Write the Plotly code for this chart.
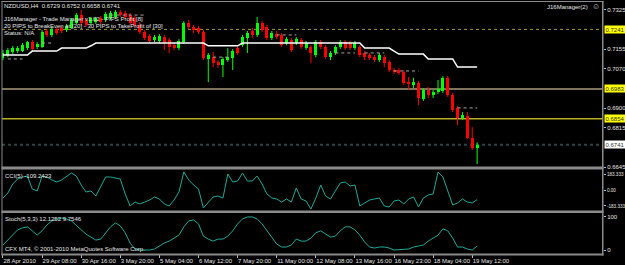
import plotly.graph_objects as go

W, H = 625, 265

# ---------------- data ----------------
bar_index = list(range(98))
opens = [0.7117, 0.7130, 0.7143, 0.7147, 0.7147, 0.7160, 0.7186, 0.7165, 0.7165, 0.7234,
         0.7217, 0.7243, 0.7247, 0.7238, 0.7247, 0.7269, 0.7303, 0.7282, 0.7269, 0.7273,
         0.7290, 0.7282, 0.7290, 0.7295, 0.7316, 0.7312, 0.7303, 0.7290, 0.7260, 0.7230,
         0.7212, 0.7195, 0.7191, 0.7208, 0.7195, 0.7173, 0.7160, 0.7186, 0.7269, 0.7251,
         0.7247, 0.7230, 0.7113, 0.7121, 0.7100, 0.7087, 0.7108, 0.7117, 0.7160, 0.7173,
         0.7204, 0.7234, 0.7217, 0.7269, 0.7251, 0.7204, 0.7221, 0.7217, 0.7182, 0.7195,
         0.7182, 0.7195, 0.7160, 0.7165, 0.7130, 0.7186, 0.7165, 0.7121, 0.7139, 0.7165,
         0.7186, 0.7182, 0.7160, 0.7165, 0.7139, 0.7130, 0.7121, 0.7108, 0.7121, 0.7100,
         0.7065, 0.7065, 0.7056, 0.7013, 0.7000, 0.7009, 0.6940, 0.6979, 0.6957, 0.6970,
         0.6974, 0.7031, 0.6957, 0.6901, 0.6857, 0.6866, 0.6771, 0.6729]
highs = [0.7152, 0.7160, 0.7169, 0.7169, 0.7182, 0.7191, 0.7195, 0.7186, 0.7238, 0.7243,
         0.7251, 0.7251, 0.7256, 0.7264, 0.7290, 0.7312, 0.7325, 0.7290, 0.7295, 0.7295,
         0.7299, 0.7316, 0.7321, 0.7325, 0.7325, 0.7321, 0.7312, 0.7299, 0.7273, 0.7238,
         0.7221, 0.7217, 0.7221, 0.7217, 0.7204, 0.7182, 0.7199, 0.7277, 0.7282, 0.7260,
         0.7256, 0.7238, 0.7139, 0.7143, 0.7108, 0.7121, 0.7160, 0.7156, 0.7169, 0.7217,
         0.7234, 0.7247, 0.7295, 0.7277, 0.7260, 0.7234, 0.7234, 0.7225, 0.7208, 0.7204,
         0.7208, 0.7204, 0.7191, 0.7173, 0.7195, 0.7195, 0.7173, 0.7147, 0.7173, 0.7195,
         0.7195, 0.7191, 0.7191, 0.7173, 0.7147, 0.7139, 0.7130, 0.7139, 0.7130, 0.7108,
         0.7074, 0.7074, 0.7065, 0.7035, 0.7031, 0.7018, 0.6987, 0.6992, 0.6979, 0.7022,
         0.7039, 0.7039, 0.6966, 0.6909, 0.6883, 0.6883, 0.6818, 0.6752]
lows = [0.7108, 0.7121, 0.7134, 0.7139, 0.7143, 0.7152, 0.7147, 0.7156, 0.7160, 0.7208,
        0.7208, 0.7217, 0.7225, 0.7230, 0.7243, 0.7264, 0.7260, 0.7251, 0.7260, 0.7264,
        0.7264, 0.7273, 0.7282, 0.7286, 0.7295, 0.7286, 0.7260, 0.7251, 0.7221, 0.7195,
        0.7182, 0.7186, 0.7182, 0.7152, 0.7139, 0.7152, 0.7152, 0.7178, 0.7243, 0.7225,
        0.7221, 0.7108, 0.7013, 0.7078, 0.7074, 0.7035, 0.7100, 0.7065, 0.7130, 0.7165,
        0.7139, 0.7204, 0.7208, 0.7230, 0.7195, 0.7195, 0.7199, 0.7165, 0.7173, 0.7143,
        0.7173, 0.7156, 0.7152, 0.7095, 0.7121, 0.7156, 0.7113, 0.7108, 0.7130, 0.7156,
        0.7152, 0.7152, 0.7152, 0.7121, 0.7108, 0.7108, 0.7100, 0.7100, 0.7078, 0.7056,
        0.7048, 0.7044, 0.7000, 0.6979, 0.6987, 0.6914, 0.6931, 0.6944, 0.6944, 0.6961,
        0.6966, 0.6948, 0.6883, 0.6827, 0.6849, 0.6766, 0.6719, 0.6658]
closes = [0.7139, 0.7152, 0.7160, 0.7160, 0.7173, 0.7186, 0.7156, 0.7178, 0.7230, 0.7217,
          0.7243, 0.7225, 0.7234, 0.7256, 0.7282, 0.7303, 0.7269, 0.7260, 0.7290, 0.7290,
          0.7273, 0.7308, 0.7312, 0.7316, 0.7303, 0.7295, 0.7269, 0.7260, 0.7230, 0.7204,
          0.7191, 0.7208, 0.7212, 0.7182, 0.7165, 0.7160, 0.7191, 0.7269, 0.7251, 0.7238,
          0.7230, 0.7117, 0.7130, 0.7095, 0.7087, 0.7113, 0.7121, 0.7147, 0.7139, 0.7208,
          0.7225, 0.7217, 0.7269, 0.7238, 0.7204, 0.7225, 0.7208, 0.7173, 0.7199, 0.7152,
          0.7199, 0.7165, 0.7182, 0.7139, 0.7186, 0.7165, 0.7121, 0.7139, 0.7165, 0.7186,
          0.7160, 0.7160, 0.7182, 0.7130, 0.7121, 0.7117, 0.7108, 0.7130, 0.7095, 0.7065,
          0.7056, 0.7052, 0.7009, 0.7005, 0.7013, 0.6944, 0.6979, 0.6957, 0.6970, 0.6983,
          0.7031, 0.6957, 0.6892, 0.6857, 0.6870, 0.6771, 0.6727, 0.6741]
trail_line = [0.7130, 0.7130, 0.7130, 0.7130, 0.7130, 0.7130, 0.7147, 0.7147, 0.7147, 0.7147,
              0.7147, 0.7147, 0.7160, 0.7160, 0.7160, 0.7160, 0.7160, 0.7160, 0.7170, 0.7182,
              0.7182, 0.7182, 0.7182, 0.7182, 0.7182, 0.7182, 0.7182, 0.7182, 0.7182, 0.7182,
              0.7182, 0.7182, 0.7182, 0.7182, 0.7182, 0.7182, 0.7182, 0.7182, 0.7182, 0.7182,
              0.7182, 0.7182, 0.7170, 0.7170, 0.7170, 0.7170, 0.7170, 0.7170, 0.7170, 0.7182,
              0.7182, 0.7182, 0.7182, 0.7182, 0.7182, 0.7182, 0.7182, 0.7182, 0.7182, 0.7182,
              0.7182, 0.7182, 0.7182, 0.7182, 0.7182, 0.7182, 0.7182, 0.7182, 0.7182, 0.7182,
              0.7182, 0.7182, 0.7182, 0.7182, 0.7160, 0.7160, 0.7160, 0.7160, 0.7160, 0.7160,
              0.7147, 0.7134, 0.7134, 0.7134, 0.7134, 0.7134, 0.7134, 0.7113, 0.7113, 0.7113,
              0.7113, 0.7113, 0.7113, 0.7078, 0.7078, 0.7078, 0.7078, 0.7078]
cci_values = [-92, -34, 69, 126, 149, 160, 11, -11, 160, 149,
              115, 92, 115, 160, 195, 160, 57, -23, -11, -69,
              46, 149, 149, 138, 126, -46, -183, -138, -160, -138,
              -115, -80, -103, -160, -183, -115, -23, 206, 115, 57,
              11, -206, -138, -80, -69, -92, 183, 92, 103, 195,
              103, 103, 160, 69, -46, -92, -103, -138, -103, -138,
              23, -103, -126, -218, -92, 57, -69, -103, -11, 80,
              92, 46, 57, -183, -149, -115, -103, -92, -183, -195,
              -126, -115, -160, -103, -80, -195, -92, -57, -46, 206,
              149, -11, -172, -149, -103, -138, -149, -109.24]
stoch_values = [15, 30, 48, 61, 67, 70, 58, 45, 58, 76,
                88, 94, 97, 94, 88, 73, 61, 48, 39, 30,
                33, 52, 70, 82, 73, 52, 21, 3, 0, 0,
                0, 3, 12, 21, 27, 36, 45, 70, 88, 91,
                79, 42, 33, 27, 33, 33, 42, 58, 79, 94,
                100, 100, 94, 79, 58, 36, 18, 9, 9, 15,
                33, 27, 27, 36, 52, 58, 48, 39, 42, 58,
                70, 70, 61, 45, 24, 9, 6, 9, 9, 6,
                0, 0, 2, 3, 9, 12, 15, 27, 36, 45,
                64, 58, 36, 9, 9, 3, 0, 12.13]
seg_start = [1, 8, 22, 43, 56, 68, 74, 80, 93]
seg_end = [4, 10, 29, 46, 60, 72, 78, 85, 97]
seg_price = [0.7113, 0.7182, 0.7303, 0.7121, 0.7217, 0.7139, 0.7139, 0.7061, 0.6901]
xtick_index = [0, 8, 16, 24, 32, 40, 48, 56, 64, 72, 80, 88, 96]
xtick_text = ["28 Apr 2010", "29 Apr 08:00", "30 Apr 16:00", "3 May 20:00", "5 May 04:00",
              "6 May 12:00", "7 May 20:00", "11 May 00:00", "12 May 08:00", "13 May 16:00",
              "16 May 23:00", "18 May 04:00", "19 May 12:00"]
price_ticks = [0.7325, 0.7155, 0.7070, 0.6900, 0.6815, 0.6645]
level_prices = [0.7241, 0.6983, 0.6854, 0.6741]
level_text = ["0.7241", "0.6983", "0.6854", "0.6741"]
cci_ticks = [183.333, 0, -183.333]
cci_tick_text = ["183.333", "0.00", "-183.333"]
stoch_ticks = [100, 0]
header_text = "NZDUSD,H4  0.6729 0.6752 0.6658 0.6741"
manager_lines = ["J16Manager - Trade Manager v1.02 - PIPS Profit [8]",
                 "20 PIPS to BreakEven at [20] - 30 PIPS to TakeProfit of [30]",
                 "Status: N/A"]
cci_label = "CCI(5) -109.2423"
stoch_label = "Stoch(5,3,3) 12.1252 9.7546"
copyright_text = "CFX MT4, \u00a9 2001-2010 MetaQuotes Software Corp."

# ---------------- helpers ----------------
def px(x):
    return x / W

def py(y):
    return 1 - y / H

FONT = "Liberation Sans, Arial, sans-serif"
FS = 6
TXT = "#e6e6e6"
GRAY = "#8a8a8a"
UP = "#00ff00"
DN = "#ff0000"

fig = go.Figure()

# wicks
for is_up, col in ((True, UP), (False, DN)):
    xs, ys = [], []
    for i, o, h, l, c in zip(bar_index, opens, highs, lows, closes):
        if (c >= o) == is_up:
            xs += [i, i, None]
            ys += [l, h, None]
    fig.add_trace(go.Scatter(x=xs, y=ys, mode="lines", line=dict(color=col, width=1),
                             hoverinfo="skip", xaxis="x", yaxis="y"))

# bodies
for is_up, col in ((True, UP), (False, DN)):
    xs, bases, hs = [], [], []
    for i, o, c in zip(bar_index, opens, closes):
        if (c >= o) == is_up:
            xs.append(i)
            bases.append(min(o, c))
            hs.append(max(abs(c - o), 0.00015))
    fig.add_trace(go.Bar(x=xs, y=hs, base=bases, width=0.62, marker=dict(color=col, line=dict(width=0)),
                         hoverinfo="skip", xaxis="x", yaxis="y"))

# dotted markers
for s, e, p in zip(seg_start, seg_end, seg_price):
    fig.add_trace(go.Scatter(x=[s, e], y=[p, p], mode="lines",
                             line=dict(color="#a8a8a8", width=1, dash="dot"),
                             hoverinfo="skip", xaxis="x", yaxis="y"))

# trailing line
fig.add_trace(go.Scatter(x=bar_index, y=trail_line, mode="lines",
                         line=dict(color="#ffffff", width=1.5), hoverinfo="skip",
                         xaxis="x", yaxis="y"))

# CCI
fig.add_trace(go.Scatter(x=bar_index, y=cci_values, mode="lines",
                         line=dict(color="#1fa899", width=1), hoverinfo="skip",
                         xaxis="x2", yaxis="y2"))
# Stochastic
fig.add_trace(go.Scatter(x=bar_index, y=stoch_values, mode="lines",
                         line=dict(color="#1fa899", width=1), hoverinfo="skip",
                         xaxis="x3", yaxis="y3"))

# level lines
level_styles = [dict(color="#a09a30", width=1, dash="dot"),
                dict(color="#7d7459", width=2, dash="solid"),
                dict(color="#b8b020", width=1.5, dash="solid"),
                dict(color="#2c4646", width=2, dash="dot")]
shapes = []
for p, st in zip(level_prices, level_styles):
    shapes.append(dict(type="line", xref="paper", yref="y", x0=px(2), x1=px(603), y0=p, y1=p,
                       line=st, layer="below"))

# frame
def rect(x0, y0, x1, y1, col=GRAY):
    return dict(type="rect", xref="paper", yref="paper", x0=px(x0), x1=px(x1),
                y0=py(y1), y1=py(y0), fillcolor=col, line=dict(width=0), layer="above")

shapes += [rect(1.5, 1.0, 603.5, 2.0), rect(1.5, 166.5, 603.5, 169.5), rect(1.5, 210.5, 603.5, 213.0),
           rect(1.5, 253.5, 603.5, 255.5), rect(1.5, 1.0, 2.5, 255.5), rect(602.0, 1.0, 603.5, 255.5)]

annotations = []
def txt(x, y, s, size=FS, color=TXT, anchor="left"):
    annotations.append(dict(xref="paper", yref="paper", x=px(x), y=py(y), text=s, showarrow=False,
                            xanchor=anchor, yanchor="middle", borderpad=0,
                            font=dict(family=FONT, size=size, color=color)))

txt(3, 6, header_text)
for k, line in enumerate(manager_lines):
    txt(3, 19.5 + 7 * k, line)
txt(589, 7, "J16Manager(2)", anchor="right")
txt(591, 7, "\u263a", size=8, color="#cfcfcf")
txt(4, 176, cci_label)
txt(4, 219, stoch_label)
txt(4, 249, copyright_text)

level_bg = ["#ffff00", "#ffff00", "#ffff00", "#ffffff"]
for p, t, bg in zip(level_prices, level_text, level_bg):
    annotations.append(dict(xref="paper", yref="y", x=px(604), y=p, text=t, showarrow=False,
                            xanchor="left", yanchor="middle", bgcolor=bg, borderpad=0.5,
                            font=dict(family=FONT, size=FS, color="#333333")))

axis_common = dict(showgrid=False, zeroline=False, showline=False, automargin=False)
x_range = [-0.2, 122.75]
main_dom = [py(167.5), py(2)]
cci_dom = [py(210.5), py(169.5)]
sto_dom = [py(253.5), py(213)]
tick_font = dict(family=FONT, size=FS, color=TXT)
small_tick_font = dict(family=FONT, size=4.6, color=TXT)

fig.update_layout(
    width=W, height=H, margin=dict(l=0, r=0, t=0, b=0, autoexpand=False),
    paper_bgcolor="#000000", plot_bgcolor="#000000", showlegend=False,
    barmode="overlay", bargap=0,
    shapes=shapes, annotations=annotations,
    xaxis=dict(domain=[px(2), px(603)], range=x_range, anchor="y", showticklabels=False, **axis_common),
    xaxis2=dict(domain=[px(2), px(603)], range=x_range, anchor="y2", matches="x", showticklabels=False, **axis_common),
    xaxis3=dict(domain=[px(2), px(603)], range=x_range, anchor="y3", matches="x",
                tickvals=xtick_index, ticktext=xtick_text, ticks="outside", ticklen=3, tickcolor="#bbbbbb",
                ticklabelposition="outside right", tickangle=0, ticklabelstandoff=1,
                tickfont=tick_font, **axis_common),
    yaxis=dict(domain=main_dom, range=[0.66430, 0.73596], anchor="x", side="right",
               tickvals=price_ticks, ticktext=[f"{v:.4f}" for v in price_ticks],
               ticks="outside", ticklen=2, tickcolor="#bbbbbb", ticklabelstandoff=0,
               tickfont=tick_font, **axis_common),
    yaxis2=dict(domain=cci_dom, range=[-235, 235], anchor="x2", side="right",
                tickvals=cci_ticks, ticktext=cci_tick_text, ticks="outside", ticklen=2, tickcolor="#bbbbbb",
                ticklabelstandoff=0, tickfont=small_tick_font, **axis_common),
    yaxis3=dict(domain=sto_dom, range=[-10.6, 112], anchor="x3", side="right",
                tickvals=stoch_ticks, ticktext=[str(v) for v in stoch_ticks], ticks="outside", ticklen=2,
                ticklabelstandoff=0, tickcolor="#bbbbbb", tickfont=tick_font, **axis_common),
)

fig.write_html("out.html")
